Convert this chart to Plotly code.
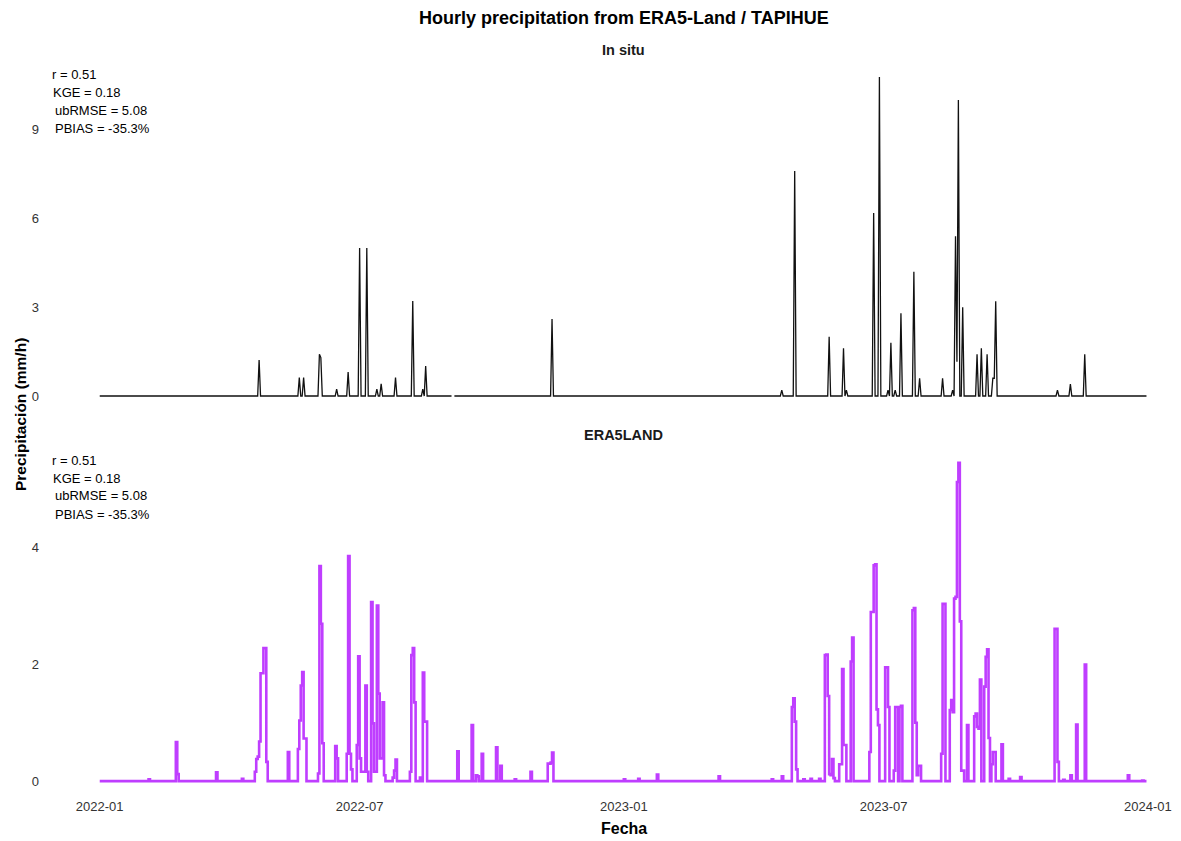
import pandas as pd
import plotly.graph_objects as go

# ---------------- data ----------------
start_date = "2022-01-01"
end_date = "2023-12-31"

insitu_dates = [
    "2022-04-22", "2022-05-20", "2022-05-23", "2022-06-03", "2022-06-04",
    "2022-06-15", "2022-06-23", "2022-07-01", "2022-07-06", "2022-07-13",
    "2022-07-16", "2022-07-26", "2022-08-07", "2022-08-14", "2022-08-16",
    "2022-11-12", "2023-04-21", "2023-04-30", "2023-05-24", "2023-06-03",
    "2023-06-05", "2023-06-24", "2023-06-28", "2023-07-04", "2023-07-06",
    "2023-07-09", "2023-07-13", "2023-07-22", "2023-07-26", "2023-08-11",
    "2023-08-18", "2023-08-20", "2023-08-21", "2023-08-22", "2023-08-25",
    "2023-09-04", "2023-09-07", "2023-09-11", "2023-09-15", "2023-09-16",
    "2023-09-17", "2023-10-30", "2023-11-08", "2023-11-18",
]
insitu_values = [
    1.22, 0.62, 0.62, 1.41, 1.30,
    0.23, 0.81, 5.00, 5.00, 0.23,
    0.41, 0.62, 3.21, 0.23, 1.01,
    2.60, 0.20, 7.60, 2.00, 1.61,
    0.20, 6.18, 10.78, 0.20, 1.80,
    0.20, 2.80, 4.20, 0.60, 0.60,
    0.20, 5.40, 1.16, 10.00, 3.00,
    1.41, 1.61, 1.41, 0.60, 0.60,
    3.20, 0.20, 0.40, 1.41,
]
insitu_missing = ["2022-09-04"]

era5_dates = [
    "2022-02-04", "2022-02-23", "2022-02-24", "2022-03-23", "2022-04-10",
    "2022-04-19", "2022-04-20", "2022-04-21", "2022-04-22", "2022-04-23",
    "2022-04-24", "2022-04-25", "2022-04-26", "2022-04-27", "2022-05-12",
    "2022-05-19", "2022-05-20", "2022-05-21", "2022-05-22", "2022-05-23",
    "2022-05-24", "2022-06-02", "2022-06-03", "2022-06-04", "2022-06-05",
    "2022-06-14", "2022-06-15", "2022-06-22", "2022-06-23", "2022-06-24",
    "2022-06-25", "2022-06-29", "2022-06-30", "2022-07-01", "2022-07-02",
    "2022-07-03", "2022-07-04", "2022-07-05", "2022-07-06", "2022-07-09",
    "2022-07-10", "2022-07-11", "2022-07-12", "2022-07-13", "2022-07-14",
    "2022-07-15", "2022-07-16", "2022-07-17", "2022-07-18", "2022-07-24",
    "2022-07-25", "2022-07-26", "2022-08-05", "2022-08-06", "2022-08-07",
    "2022-08-08", "2022-08-12", "2022-08-14", "2022-08-15", "2022-08-16",
    "2022-09-07", "2022-09-17", "2022-09-20", "2022-09-21", "2022-09-24",
    "2022-10-04", "2022-10-07", "2022-10-17", "2022-10-28", "2022-11-09",
    "2022-11-10", "2022-11-11", "2022-11-12", "2023-01-01", "2023-01-11",
    "2023-01-24", "2023-03-08", "2023-04-14", "2023-04-21", "2023-04-28",
    "2023-04-29", "2023-04-30", "2023-05-01", "2023-05-06", "2023-05-11",
    "2023-05-17", "2023-05-21", "2023-05-22", "2023-05-23", "2023-05-24",
    "2023-05-25", "2023-05-26", "2023-05-27", "2023-05-31", "2023-06-01",
    "2023-06-02", "2023-06-03", "2023-06-04", "2023-06-08", "2023-06-09",
    "2023-06-21", "2023-06-22", "2023-06-23", "2023-06-24", "2023-06-25",
    "2023-06-26", "2023-06-27", "2023-07-02", "2023-07-03", "2023-07-04",
    "2023-07-08", "2023-07-09", "2023-07-10", "2023-07-12", "2023-07-13",
    "2023-07-21", "2023-07-22", "2023-07-23", "2023-07-24", "2023-07-25",
    "2023-07-26", "2023-08-10", "2023-08-11", "2023-08-12", "2023-08-16",
    "2023-08-17", "2023-08-18", "2023-08-19", "2023-08-20", "2023-08-21",
    "2023-08-22", "2023-08-23", "2023-08-24", "2023-08-25", "2023-08-28",
    "2023-09-02", "2023-09-03", "2023-09-04", "2023-09-05", "2023-09-06",
    "2023-09-09", "2023-09-10", "2023-09-11", "2023-09-12", "2023-09-14",
    "2023-09-15", "2023-09-16", "2023-09-21", "2023-09-26", "2023-10-04",
    "2023-10-28", "2023-10-29", "2023-10-30", "2023-11-03", "2023-11-08",
    "2023-11-12", "2023-11-18", "2023-12-18", "2023-12-28",
]
era5_values = [
    0.03, 0.67, 0.12, 0.15, 0.04,
    0.16, 0.38, 0.42, 0.68, 1.85,
    1.85, 2.28, 2.28, 0.33, 0.50,
    0.55, 1.04, 1.64, 1.87, 0.73,
    0.73, 0.13, 3.69, 2.70, 0.65,
    0.60, 0.39, 0.47, 3.86, 0.47,
    0.20, 0.62, 2.14, 0.39, 0.16,
    0.16, 0.16, 1.64, 0.16, 3.07,
    0.99, 0.16, 0.16, 3.01, 1.50,
    0.39, 0.39, 1.35, 0.10, 0.06,
    0.18, 0.37, 0.16, 2.16, 2.28,
    1.35, 0.06, 1.86, 1.02, 1.02,
    0.51, 0.96, 0.10, 0.08, 0.47,
    0.58, 0.26, 0.03, 0.16, 0.30,
    0.30, 0.32, 0.49, 0.03, 0.04,
    0.11, 0.08, 0.03, 0.08, 1.27,
    1.42, 1.02, 0.20, 0.03, 0.04,
    0.04, 2.16, 2.17, 1.46, 0.12,
    0.10, 0.38, 0.05, 0.29, 0.29,
    1.92, 0.62, 0.62, 2.05, 2.46,
    0.50, 2.90, 2.90, 3.70, 3.72,
    1.23, 0.96, 1.95, 1.95, 1.27,
    0.18, 1.27, 1.27, 1.27, 1.29,
    2.93, 2.97, 1.00, 0.10, 0.26,
    0.26, 0.47, 3.04, 3.04, 1.22,
    1.39, 1.18, 3.13, 3.16, 5.13,
    5.46, 2.74, 0.18, 0.18, 0.96,
    1.11, 1.16, 0.93, 0.90, 1.74,
    1.62, 2.13, 2.26, 0.74, 0.29,
    0.50, 0.50, 0.63, 0.04, 0.07,
    2.61, 2.61, 0.33, 0.02, 0.10,
    0.97, 2.00, 0.10, 0.01,
]

stats_labels = ["r = 0.51", "KGE = 0.18", "ubRMSE = 5.08", "PBIAS = -35.3%"]
panel_titles = ["In situ", "ERA5LAND"]
x_tick_values = ["2022-01-01", "2022-07-01", "2023-01-01", "2023-07-01", "2024-01-01"]
x_tick_labels = ["2022-01", "2022-07", "2023-01", "2023-07", "2024-01"]
top_y_ticks = [0, 3, 6, 9]
bottom_y_ticks = [0, 2, 4]

# ---------------- build daily series ----------------
days = pd.date_range(start_date, end_date, freq="D")
insitu = pd.Series(0.0, index=days)
insitu.loc[pd.to_datetime(insitu_dates)] = insitu_values
insitu.loc[pd.to_datetime(insitu_missing)] = float("nan")

era5 = pd.Series(0.0, index=days)
era5.loc[pd.to_datetime(era5_dates)] = era5_values

FONT = "Liberation Sans, Arial, sans-serif"
L, R, T, B = 46, 21, 61, 44
W, H = 1181, 841

fig = go.Figure()
fig.add_trace(go.Scatter(
    x=insitu.index, y=insitu.values, mode="lines",
    line=dict(color="#111111", width=1.3), connectgaps=False,
    xaxis="x", yaxis="y", showlegend=False,
))
fig.add_trace(go.Scatter(
    x=era5.index, y=era5.values, mode="lines",
    line=dict(color="#BF3EFF", width=2.6, shape="hv"),
    xaxis="x2", yaxis="y2", showlegend=False,
))

x_range = ["2021-11-24 14:00", "2024-01-09 10:00"]
tickfont = dict(family=FONT, size=13, color="#333333")
fig.update_layout(
    width=W, height=H,
    margin=dict(l=L, r=R, t=T, b=B, autoexpand=False),
    paper_bgcolor="white", plot_bgcolor="white",
    font=dict(family=FONT, color="#222222"),
    xaxis=dict(domain=[0, 1], anchor="y", range=x_range, showticklabels=False,
               showgrid=False, zeroline=False, showline=False, ticks="",
               tickvals=x_tick_values, automargin=False),
    xaxis2=dict(domain=[0, 1], anchor="y2", range=x_range, matches="x",
                showgrid=False, zeroline=False, showline=False, ticks="",
                tickvals=x_tick_values, ticktext=x_tick_labels, tickfont=tickfont,
                automargin=False),
    yaxis=dict(domain=[0.5231, 1.0], range=[-0.54, 11.32], tickvals=top_y_ticks,
               showgrid=False, zeroline=False, showline=False, ticks="",
               ticklabelstandoff=6, tickfont=tickfont, automargin=False),
    yaxis2=dict(domain=[0.0, 0.4755], range=[-0.273, 5.73], tickvals=bottom_y_ticks,
                showgrid=False, zeroline=False, showline=False, ticks="",
                ticklabelstandoff=6, tickfont=tickfont, automargin=False),
)

plot_w = W - L - R
plot_h = H - T - B


def px_x(px):
    return (px - L) / plot_w


def px_y(py):
    return (H - B - py) / plot_h


annotations = []
# main title
annotations.append(dict(text="<b>Hourly precipitation from ERA5-Land / TAPIHUE</b>",
                        x=px_x(624), y=px_y(18), xref="paper", yref="paper",
                        xanchor="center", yanchor="middle", showarrow=False,
                        font=dict(family=FONT, size=18, color="black")))
# strip titles
for title, py in zip(panel_titles, [50, 435]):
    annotations.append(dict(text=f"<b>{title}</b>", x=px_x(624), y=px_y(py), xref="paper", yref="paper",
                            xanchor="center", yanchor="middle", showarrow=False,
                            font=dict(family=FONT, size=14.5, color="#1a1a1a")))
# stats text
x_offsets = [50, 51, 52.5, 52.5]
for base in [74, 460]:
    for i, lab in enumerate(stats_labels):
        annotations.append(dict(text=lab, x=px_x(x_offsets[i]),
                                y=px_y(base + i * 18), xref="paper", yref="paper",
                                xanchor="left", yanchor="middle", showarrow=False,
                                font=dict(family=FONT, size=13, color="black")))
# y axis title
annotations.append(dict(text="<b>Precipitación (mm/h)</b>", x=px_x(20), y=px_y(415),
                        xref="paper", yref="paper", xanchor="center", yanchor="middle",
                        textangle=-90, showarrow=False,
                        font=dict(family=FONT, size=15.5, color="black")))
# x axis title
annotations.append(dict(text="<b>Fecha</b>", x=px_x(624), y=px_y(828),
                        xref="paper", yref="paper", xanchor="center", yanchor="middle",
                        showarrow=False, font=dict(family=FONT, size=16, color="black")))
fig.update_layout(annotations=annotations)

fig.write_html("out.html")
